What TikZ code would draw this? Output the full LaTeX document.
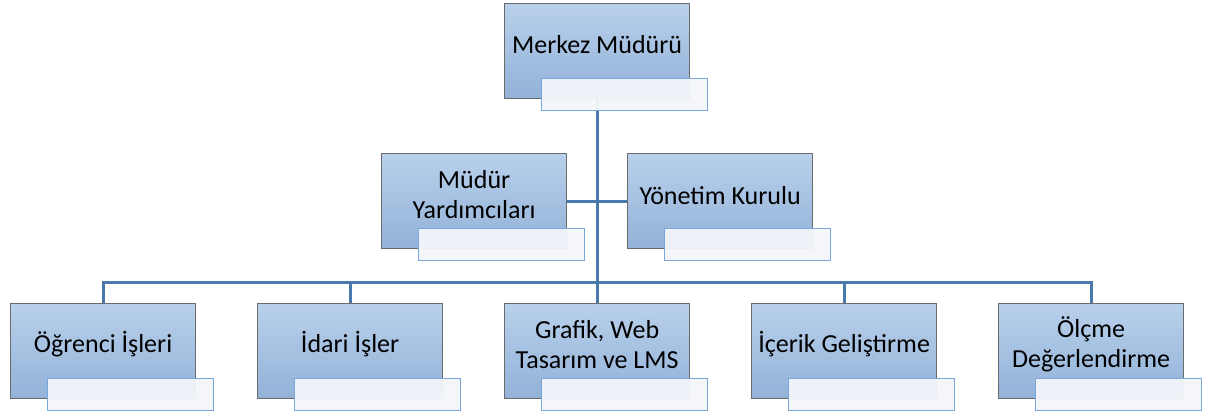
\documentclass[tikz,border=0pt]{standalone}
\usepackage{fontspec}
\setmainfont{Carlito}
\usepackage{tikz}

\definecolor{boxtop}{HTML}{B8D0EB}
\definecolor{boxbot}{HTML}{93B2D8}
\definecolor{boxline}{HTML}{6B6B6B}
\definecolor{notefill}{HTML}{F3F6FA}
\definecolor{noteline}{HTML}{7AA7DA}
\definecolor{wire}{HTML}{4A7AAC}

\begin{document}
\begin{tikzpicture}[x=1pt, y=-1pt, font=\fontsize{26}{30}\selectfont,
    unit/.style={draw=boxline, line width=1.2pt, top color=boxtop, bottom color=boxbot,
      minimum width=185pt, minimum height=95pt, inner sep=0pt, anchor=north west},
    note/.style={draw=noteline, line width=1.2pt, fill=notefill, fill opacity=0.95,
      minimum width=166pt, minimum height=32pt, inner sep=0pt, anchor=north west},
    unittext/.style={align=center, inner sep=0pt},
    link/.style={draw=wire, line width=3pt}]
    \useasboundingbox (0,0) rectangle (1206,414);

    % boxes
    \node[unit] (mm) at (504,3) {};
    \node[unit] (my) at (381,153) {};
    \node[unit] (yk) at (627,153) {};
    \node[unit] (oi) at (10,303) {};
    \node[unit] (ii) at (257,303) {};
    \node[unit] (gw) at (504,303) {};
    \node[unit] (ig) at (751,303) {};
    \node[unit] (od) at (998,303) {};
    \coordinate (bus) at (597,282);

    % connectors
    \draw[link] (mm.south) -- (gw.north);
    \draw[link] (my.east) -- (yk.west);
    \draw[link] (oi.north) |- (bus) -| (od.north);
    \draw[link] (ii.north) -- (ii.north |- bus);
    \draw[link] (ig.north) -- (ig.north |- bus);

    % texts
    \node[unittext] (mmt) at ([yshift=7]mm.center) {Merkez Müdürü};
    \node[unittext] (myt) at ([yshift=7]my.center) {Müdür\\Yardımcıları};
    \node[unittext] (ykt) at ([yshift=6]yk.center) {Yönetim Kurulu};
    \node[unittext] (oit) at ([yshift=7]oi.center) {Öğrenci İşleri};
    \node[unittext] (iit) at ([yshift=7]ii.center) {İdari İşler};
    \node[unittext] (gwt) at ([yshift=7]gw.center) {Grafik, Web\\Tasarım ve LMS};
    \node[unittext] (igt) at ([yshift=7]ig.center) {İçerik Geliştirme};
    \node[unittext] (odt) at ([yshift=7]od.center) {Ölçme\\Değerlendirme};

    % empty notes
    \node[note] (mmn) at ([xshift=37, yshift=21]mm.south west) {};
    \node[note] (myn) at ([xshift=37, yshift=21]my.south west) {};
    \node[note] (ykn) at ([xshift=37, yshift=21]yk.south west) {};
    \node[note] (oin) at ([xshift=37, yshift=21]oi.south west) {};
    \node[note] (iin) at ([xshift=37, yshift=21]ii.south west) {};
    \node[note] (gwn) at ([xshift=37, yshift=21]gw.south west) {};
    \node[note] (ign) at ([xshift=37, yshift=21]ig.south west) {};
    \node[note] (odn) at ([xshift=37, yshift=21]od.south west) {};
\end{tikzpicture}
\end{document}
